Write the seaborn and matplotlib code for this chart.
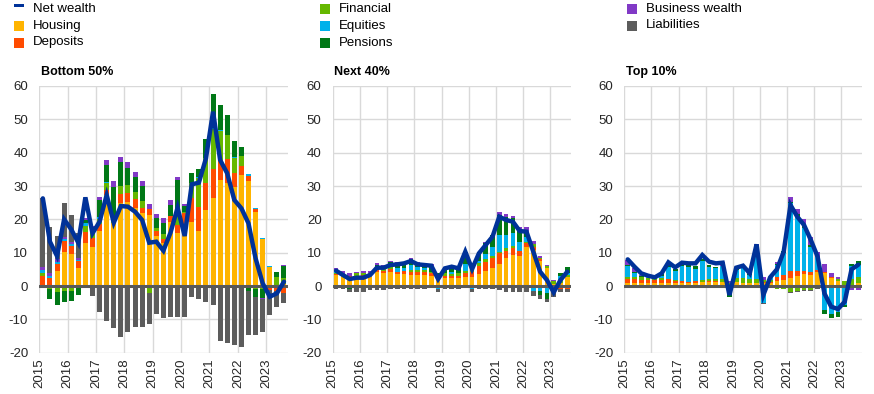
import numpy as np
import pandas as pd
import matplotlib
matplotlib.use("Agg")
import matplotlib.pyplot as plt
import seaborn as sns
from matplotlib.patches import Rectangle
from matplotlib.lines import Line2D

# ---------------- data ----------------
years = ["2015", "2016", "2017", "2018", "2019", "2020", "2021", "2022", "2023"]
quarters = [f"{y}Q{q}" for y in years for q in range(1, 5)][:35]
panel_titles = ["Bottom 50%", "Next 40%", "Top 10%"]
series_names = ["Housing", "Deposits", "Financial", "Equities", "Pensions",
                "Business wealth", "Liabilities"]

b50_housing = [0, 0, 4.5, 10.2, 9.7, 5.4, 12.9, 11.8, 16.6, 27.3, 18.8, 25.0, 25.1, 23.5, 21.8, 21.3, 15.0, 12.8,
               19.3, 15.8, 15.3, 19.3, 16.5, 22.8, 26.5, 31.8, 31.0, 29.8, 33.3, 31.6, 22.3, 14.0, 5.6, 0, 0.5]
b50_deposits = [3.0, 2.4, 2.1, 3.2, 2.4, 2.1, 3.3, 2.6, 2.0, 1.5, 0, 2.5, 2.7, 2.6, 1.7, 1.8, 1.5, 1.3,
                1.7, 2.5, 6.5, 7.0, 7.3, 8.0, 8.7, 6.0, 7.1, 4.0, 2.7, 1.5, 0.8, 0, -1.2, -1.5, -2.0]
b50_financial = [0.8, -1.0, -1.8, -1.6, -1.6, 0, 1.8, 1.8, 1.6, 2.0, 1.5, 2.5, 2.5, 2.2, 2.0, -2.0, 0.8, 1.5,
                 0, 3.0, 0.5, 4.5, 8.7, 7.5, 11.8, 8.7, 7.2, 4.7, 3.0, 0, -1.0, -1.0, 0, 2.8, 1.8]
b50_equities = [1.0, 0.7, 0.6, 0.6, 0.5, 0.3, 0.8, 0.3, 0.4, 0.5, 0, 0, 0, 0, 0, 0, 0, 0,
                0, 0, 0, 0, 0.3, 0, 0.5, 0.3, 0, 0.3, 0, 0.4, 0.4, 0.3, 0.4, 0, 0]
b50_pensions = [0, -3.0, -4.0, -3.2, -2.9, -2.8, 1.0, 0.8, 5.2, 5.0, 9.5, 7.3, 5.2, 4.4, 4.5, 0, 3.1, 3.4,
                3.3, 10.5, 1.6, 3.2, 2.2, 5.7, 10.1, 7.5, 6.0, 4.8, 2.8, -1.5, -2.2, -2.6, 0, 1.4, 3.7]
b50_business = [0.8, 0.9, 0.8, 0.6, 0.6, 0.5, 0.7, 0.7, 1.0, 1.5, 1.7, 1.5, 1.7, 1.5, 1.5, 1.5, 1.2, 1.4,
                1.5, 1.0, 0.7, 0, 0, 0, 0, 0, 0, 0, 0, 0, 0, -0.4, 0, 0, 0.3]
b50_liabilities = [20.7, 13.8, 7.0, 10.2, 8.1, 7.7, 0, -3.0, -7.7, -10.5, -12.5, -15.2, -13.7, -12.2, -12.2, -9.5,
                   -8.4, -9.5, -9.2, -9.2, -9.2, -3.3, -3.8, -4.8, -5.6, -16.5, -17.2, -17.8, -18.2, -13.1,
                   -11.4, -9.7, -7.6, -4.7, -3.1]
b50_net = [26.3, 13.3, 9.0, 20.0, 17.0, 13.0, 26.6, 15.8, 19.3, 27.3, 19.0, 24.0, 23.8, 22.3, 19.8, 13.0, 13.3,
           10.6, 16.0, 23.5, 15.0, 30.5, 31.0, 38.3, 52.3, 37.8, 33.8, 25.8, 23.3, 18.8, 8.3, 0.8, -3.2, -2.2, 1.3]

n40_housing = [3.2, 2.9, 2.5, 2.3, 2.5, 3.3, 4.3, 4.0, 4.3, 3.5, 3.5, 3.3, 3.3, 3.3, 3.0, 2.3, 2.5, 2.5,
               2.5, 2.8, 2.8, 3.5, 4.5, 5.3, 6.6, 8.3, 9.3, 9.0, 11.8, 10.8, 7.5, 5.3, 0.5, 0.8, 2.6]
n40_deposits = [0.3, 0.4, 0.5, 0.8, 0.8, 0, 0.4, 0.6, 0.8, 0.8, 1.0, 1.0, 1.0, 1.0, 0.8, 0.5, 0.5, 0.5,
                0.5, 1.0, 1.5, 2.5, 2.8, 3.0, 3.2, 2.3, 2.2, 1.6, 1.0, 1.0, 0.5, 0, 0, -0.8, -0.8]
n40_financial = [0.5, 0.3, 0, 0.7, 0.7, 0.7, 0, 0.7, 0.7, 0, 0, 0.5, 0.5, 0.5, 0.5, 0.5, 1.0, 0.5,
                 1.0, 0.8, 1.0, 0.8, 0.8, 0.8, 0.5, 0.7, 0.6, 0, 0.5, 0.8, 0.5, 0.7, 0.9, 1.0, 0.6]
n40_equities = [0.5, 0, 0, 0, 0, 0, 0, 0, 0, 1.2, 1.0, 1.5, 1.0, 0.7, 0, -0.8, 0, 0.8,
                0, 2.0, -0.8, 0.7, 1.5, 2.5, 5.0, 4.0, 3.7, 2.7, 1.5, -1.5, -1.5, -2.0, 0, 1.2, 0.6]
n40_pensions = [0.3, 0, -1.0, 0, 0, 0, 1.6, 0.7, 1.3, 1.3, 1.3, 1.7, 0.7, 0.8, 1.5, 0.7, 1.3, 1.5,
                1.3, 3.7, 0.5, 2.8, 3.2, 3.7, 6.0, 5.5, 4.5, 3.3, 1.5, 0, -1.3, -1.8, -1.0, 1.0, 2.0]
n40_business = [0.5, 0.9, 0.8, 0.5, 0.4, 0.5, 0.5, 0.3, 0.4, 0.5, 0.5, 0.5, 0.6, 0.5, 0.7, 0, 0.3, 0.5,
                0, 0, 0.2, 0, 0.5, 0, 1.0, 0.7, 0.7, 1.2, 1.5, 0.9, 0.5, 0.3, 0.4, 0, 0]
n40_liabilities = [-1.0, -1.0, -0.8, -1.8, -1.8, -1.2, -1.2, -1.2, -1.0, -1.0, -0.8, -0.8, -0.8, -0.8, -0.5,
                   -0.9, -0.8, -0.8, -0.8, -0.5, -1.0, -1.0, -1.0, -1.0, -1.3, -1.8, -1.8, -1.8, -1.8, -1.5,
                   -1.2, -1.0, -2.3, -0.9, -0.9]
n40_net = [4.6, 3.3, 2.1, 2.5, 2.5, 3.3, 5.5, 5.5, 6.3, 6.5, 6.8, 7.5, 6.5, 6.3, 6.1, 2.1, 5.3, 5.8,
           5.3, 10.3, 5.1, 9.8, 12.3, 14.8, 20.8, 19.8, 19.3, 16.5, 16.3, 10.3, 4.3, 1.8, -1.9, 1.8, 4.3]

t10_housing = [1.0, 1.0, 1.0, 1.0, 1.0, 1.0, 1.0, 1.0, 1.0, 1.0, 1.0, 1.2, 1.2, 1.2, 1.2, 0.3, 1.2, 0.8,
               0.8, 1.0, 0.8, 0.8, 1.5, 1.8, 2.3, 3.0, 3.5, 3.3, 4.3, 3.8, 2.3, 1.6, 0, 0, 0.8]
t10_deposits = [1.0, 1.0, 0.8, 0.8, 0.8, 0.8, 1.0, 0.6, 0.6, 0.3, 0.5, 0, 0.4, 0.4, 0, 0, 0, 0,
                0, 0, 0.3, 0.5, 1.3, 1.5, 2.3, 1.6, 1.1, 1.0, 0.5, 0.5, 0.5, 0, 0, -0.5, -0.4]
t10_financial = [0.6, 0.6, 0.8, 0.5, 0.6, 0.5, 0, 0.3, 0, 0, 0, 0.6, 0.4, 0.4, 0.8, 0.5, 1.1, 1.5,
                 1.2, 1.1, 0.8, 0.5, -0.8, -0.8, -1.7, -1.5, -1.2, -1.2, 0, 0, 0, 0.4, 1.6, 2.0, 1.8]
t10_equities = [3.4, 1.2, -0.6, 0.5, -0.7, 0.8, 3.8, 2.6, 4.4, 4.3, 3.7, 5.7, 3.6, 3.3, 4.0, -2.2, 2.5, 3.0,
                1.3, 8.7, -5.2, 0.8, 3.5, 6.5, 20.3, 16.2, 12.7, 7.5, 4.0, -7.2, -8.5, -7.9, -5.7, 4.0, 3.7]
t10_pensions = [0.3, 0.5, 0.5, 0, 0.3, 0.5, 0.5, 0.5, 0.6, 0.7, 0.7, 0.5, 0.7, 0.5, 0, -1.0, 0.5, 0.5,
                0.5, 0.8, 0, 0, 0.3, 0.8, 0.3, 0.8, 0.7, 0.5, 0, -1.2, -1.0, -1.3, -0.5, 0.6, 1.2]
t10_business = [1.5, 1.0, 0.3, 0, 0, 0, 0, 0, 0.4, 0, 0, 0, 0, 0, 1.3, 0.6, 0, 0,
                0, 1.0, 0.9, 0, 0.7, 0, 1.5, 1.4, 2.0, 2.5, 1.5, 2.3, 1.0, 0.6, 0, -0.8, -0.8]
t10_liabilities = [0, 0, 0, -0.5, 0, 0, 0, 0, -0.5, -0.4, 0, 0, 0, 0, 0, 0, 0, 0,
                   0, 0, -0.3, -0.3, 0, -0.2, -0.3, -0.3, -0.3, -0.3, -1.0, 0, -0.2, -0.2, 0, 0, 0]
t10_net = [8.0, 5.8, 3.8, 3.1, 2.6, 3.8, 7.1, 5.6, 7.0, 6.8, 6.8, 9.3, 7.3, 6.8, 7.0, -2.7, 5.5, 6.1,
           3.8, 12.5, -2.7, 2.6, 5.0, 10.3, 24.3, 20.8, 18.3, 13.8, 8.8, -2.2, -6.2, -6.9, -4.7, 5.0, 6.4]

colors = {
    "Net wealth": "#003299",
    "Housing": "#FFB400",
    "Deposits": "#FF4B00",
    "Financial": "#65B800",
    "Equities": "#00B1EA",
    "Pensions": "#007816",
    "Business wealth": "#8139C6",
    "Liabilities": "#5C5C5C",
}

panels = [
    [b50_housing, b50_deposits, b50_financial, b50_equities, b50_pensions, b50_business, b50_liabilities, b50_net],
    [n40_housing, n40_deposits, n40_financial, n40_equities, n40_pensions, n40_business, n40_liabilities, n40_net],
    [t10_housing, t10_deposits, t10_financial, t10_equities, t10_pensions, t10_business, t10_liabilities, t10_net],
]

# ---------------- style ----------------
sns.set_theme(style="white")
plt.rcParams["font.family"] = ["Liberation Sans", "DejaVu Sans"]
plt.rcParams["text.color"] = "#000000"

W, H = 874, 394
fig = plt.figure(figsize=(W / 100, H / 100), dpi=100)

# axes boxes in pixels: (left, right)
boxes = [(39.3, 287.5), (332.7, 570.7), (624.3, 861.7)]
top_px, bot_px = 86.0, 352.7

for (l, r), title, pdata in zip(boxes, panel_titles, panels):
    ax = fig.add_axes([l / W, 1 - bot_px / H, (r - l) / W, (bot_px - top_px) / H])
    df = pd.DataFrame({name: vals for name, vals in zip(series_names, pdata[:7])})
    df["Net wealth"] = pdata[7]
    df["quarter"] = quarters
    x = np.arange(len(quarters))
    pos_b = np.zeros(len(x))
    neg_b = np.zeros(len(x))
    for name in series_names:
        v = df[name].to_numpy(dtype=float)
        bottoms = np.where(v >= 0, pos_b, neg_b)
        ax.bar(x, v, width=0.7, bottom=bottoms, color=colors[name], linewidth=0, zorder=2)
        pos_b = pos_b + np.clip(v, 0, None)
        neg_b = neg_b + np.clip(v, None, 0)
    ax.axhline(0, color="#595959", lw=2.2, zorder=3)
    sns.lineplot(x=x, y=df["Net wealth"], ax=ax, color=colors["Net wealth"], lw=3.2,
                 zorder=4, legend=False, solid_joinstyle="miter")

    ax.set_xlim(-0.5, len(x) - 0.5)
    ax.set_ylim(-20, 60)
    ax.set_yticks(np.arange(-20, 61, 10))
    ax.set_yticklabels([str(v) for v in range(-20, 61, 10)], fontsize=9.5)
    ax.set_xticks(np.arange(-0.5, len(x) - 1, 4))
    ax.set_xticklabels(years, rotation=90, fontsize=9.5, va="top", ha="center")
    ax.tick_params(axis="both", length=0)
    ax.tick_params(axis="y", pad=8)
    ax.tick_params(axis="x", pad=4)
    ax.grid(True, color="#D9D9D9", lw=1)
    ax.set_axisbelow(True)
    for s in ax.spines.values():
        s.set_visible(False)
    ax.set_xlabel("")
    ax.set_ylabel("")
    fig.text((l + 1.5) / W, 1 - 72 / H, title, fontsize=9, fontweight="bold",
             ha="left", va="center")

# ---------------- legend ----------------
legend_items = [
    ("Net wealth", 14, 8.5), ("Housing", 14, 25.5), ("Deposits", 14, 42.5),
    ("Financial", 320, 8.5), ("Equities", 320, 25.5), ("Pensions", 320, 42.5),
    ("Business wealth", 627, 8.5), ("Liabilities", 627, 25.5),
]
for name, mx, my in legend_items:
    if name == "Net wealth":
        fig.add_artist(Rectangle((mx / W, 1 - (my - 1.5) / H), 10 / W, 3.5 / H,
                                 transform=fig.transFigure, color=colors[name], lw=0))
    else:
        fig.add_artist(Rectangle((mx / W, 1 - (my + 5) / H), 10 / W, 10 / H,
                                 transform=fig.transFigure, color=colors[name], lw=0))
    fig.text((mx + 19) / W, 1 - my / H, name, fontsize=9.5, ha="left", va="center")

fig.savefig("out.png", dpi=100)
